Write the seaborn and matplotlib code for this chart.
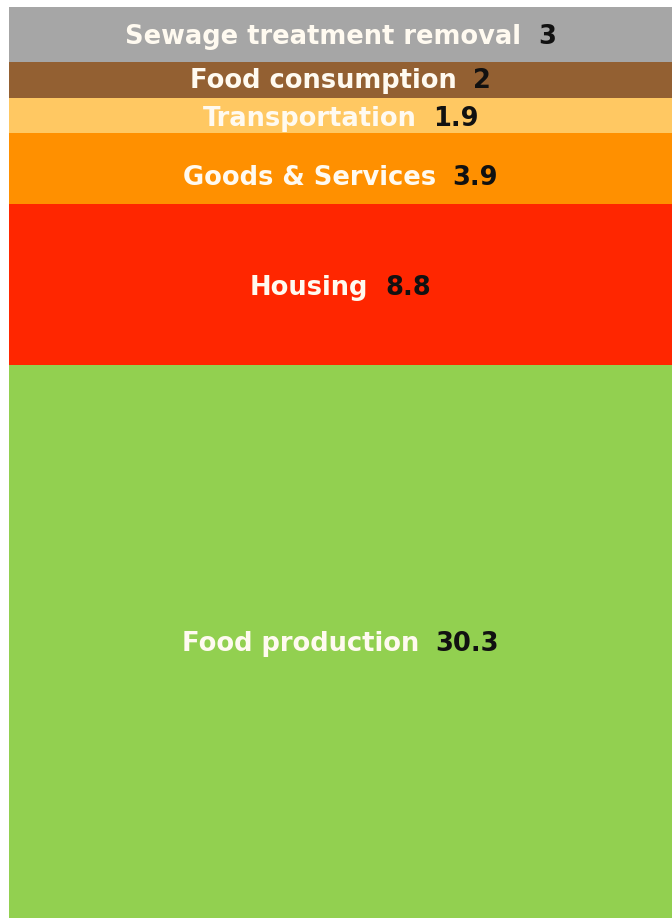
import numpy as np
import pandas as pd
import matplotlib
matplotlib.use("Agg")
import matplotlib.pyplot as plt
import seaborn as sns
from matplotlib.offsetbox import TextArea, HPacker, AnnotationBbox

# Segments listed bottom to top
categories = ["Food production", "Housing", "Goods & Services",
              "Transportation", "Food consumption", "Sewage treatment removal"]
values = [30.3, 8.8, 3.9, 1.9, 2, 3]
colors = ["#92d050", "#ff2600", "#ff9000", "#ffc862", "#936032", "#a6a6a6"]
value_labels = ["30.3", "8.8", "3.9", "1.9", "2", "3"]

sns.set_theme(style="white")
plt.rcParams["font.family"] = ["DejaVu Sans"]

W, H = 672, 918
fig = plt.figure(figsize=(W / 100, H / 100), dpi=100)
fig.patch.set_facecolor("white")
ax = fig.add_axes([9 / W, 0, (W - 9) / W, 911 / H])

bottoms = np.concatenate([[0], np.cumsum(values)[:-1]])
total = float(np.sum(values))

for cat, val, bot, col in zip(categories, values, bottoms, colors):
    df = pd.DataFrame({"stack": ["total"], "value": [val]})
    sns.barplot(data=df, x="stack", y="value", bottom=bot, color=col,
                saturation=1, width=1.0, edgecolor="none", linewidth=0,
                errorbar=None, ax=ax)

ax.set_xlim(-0.5, 0.5)
ax.set_ylim(0, total)
ax.axis("off")

# Label + value centred in each segment
for cat, val, bot, vtxt in zip(categories, values, bottoms, value_labels):
    lab = TextArea(cat, textprops=dict(color="#fffaf0", fontsize=18.5,
                                       fontweight="bold"))
    num = TextArea(vtxt, textprops=dict(color="#111111", fontsize=18.5,
                                        fontweight="bold"))
    box = HPacker(children=[lab, num], align="center", pad=0, sep=12)
    y = bot + val / 2
    dy = -2.2
    if cat == "Goods & Services":
        dy = -7
    elif cat == "Food consumption":
        dy = -0.8
    ab = AnnotationBbox(box, (0, y), xybox=(0, dy), xycoords="data",
                        boxcoords="offset points", frameon=False,
                        box_alignment=(0.5, 0.5), pad=0)
    ax.add_artist(ab)

fig.savefig("out.png", dpi=100, facecolor="white")
